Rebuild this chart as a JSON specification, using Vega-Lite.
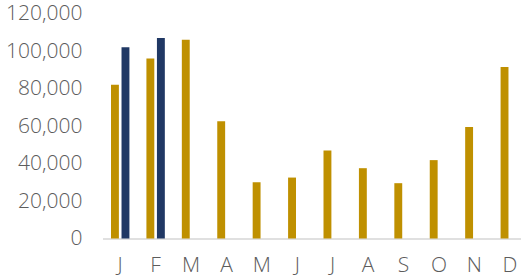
{
  "$schema": "https://vega.github.io/schema/vega-lite/v6.json",
  "width": 425,
  "height": 225,
  "autosize": {"type": "none"},
  "padding": {"left": 102.5, "top": 13.5, "right": 0, "bottom": 41.5},
  "background": "white",
  "config": {
    "view": {"stroke": null},
    "font": "Open Sans"
  },
  "data": {
    "values": [
      {"month": "J", "series": "Prior", "value": 82000},
      {"month": "J", "series": "Current", "value": 102000},
      {"month": "F", "series": "Prior", "value": 96000},
      {"month": "F", "series": "Current", "value": 107000},
      {"month": "M", "series": "Prior", "value": 106000},
      {"month": "A", "series": "Prior", "value": 62500},
      {"month": "M ", "series": "Prior", "value": 30000},
      {"month": "J ", "series": "Prior", "value": 32500},
      {"month": "J  ", "series": "Prior", "value": 47000},
      {"month": "A ", "series": "Prior", "value": 37500},
      {"month": "S", "series": "Prior", "value": 29500},
      {"month": "O", "series": "Prior", "value": 41800},
      {"month": "N", "series": "Prior", "value": 59500},
      {"month": "D", "series": "Prior", "value": 91500}
    ]
  },
  "mark": {"type": "bar"},
  "encoding": {
    "x": {
      "field": "month",
      "type": "nominal",
      "sort": null,
      "scale": {"paddingInner": 0.48, "paddingOuter": 0.24},
      "axis": {
        "title": null,
        "labelAngle": 0,
        "ticks": false,
        "domainColor": "#d6d6d6",
        "domainWidth": 1.7,
        "labelFontSize": 21,
        "labelFontWeight": 300,
        "labelColor": "#5c5c5c",
        "labelPadding": 16
      }
    },
    "xOffset": {
      "field": "series",
      "type": "nominal",
      "sort": ["Prior", "Current"],
      "scale": {"paddingInner": 0.25, "paddingOuter": 0}
    },
    "y": {
      "field": "value",
      "type": "quantitative",
      "scale": {"domain": [0, 120000]},
      "axis": {
        "title": null,
        "domain": false,
        "ticks": false,
        "grid": false,
        "values": [0, 20000, 40000, 60000, 80000, 100000, 120000],
        "format": ",.0f",
        "labelFontSize": 21,
        "labelFontWeight": 300,
        "labelColor": "#5c5c5c",
        "labelPadding": 20.5
      }
    },
    "color": {
      "field": "series",
      "type": "nominal",
      "scale": {"domain": ["Prior", "Current"], "range": ["#BF9000", "#203864"]},
      "legend": null
    }
  }
}
